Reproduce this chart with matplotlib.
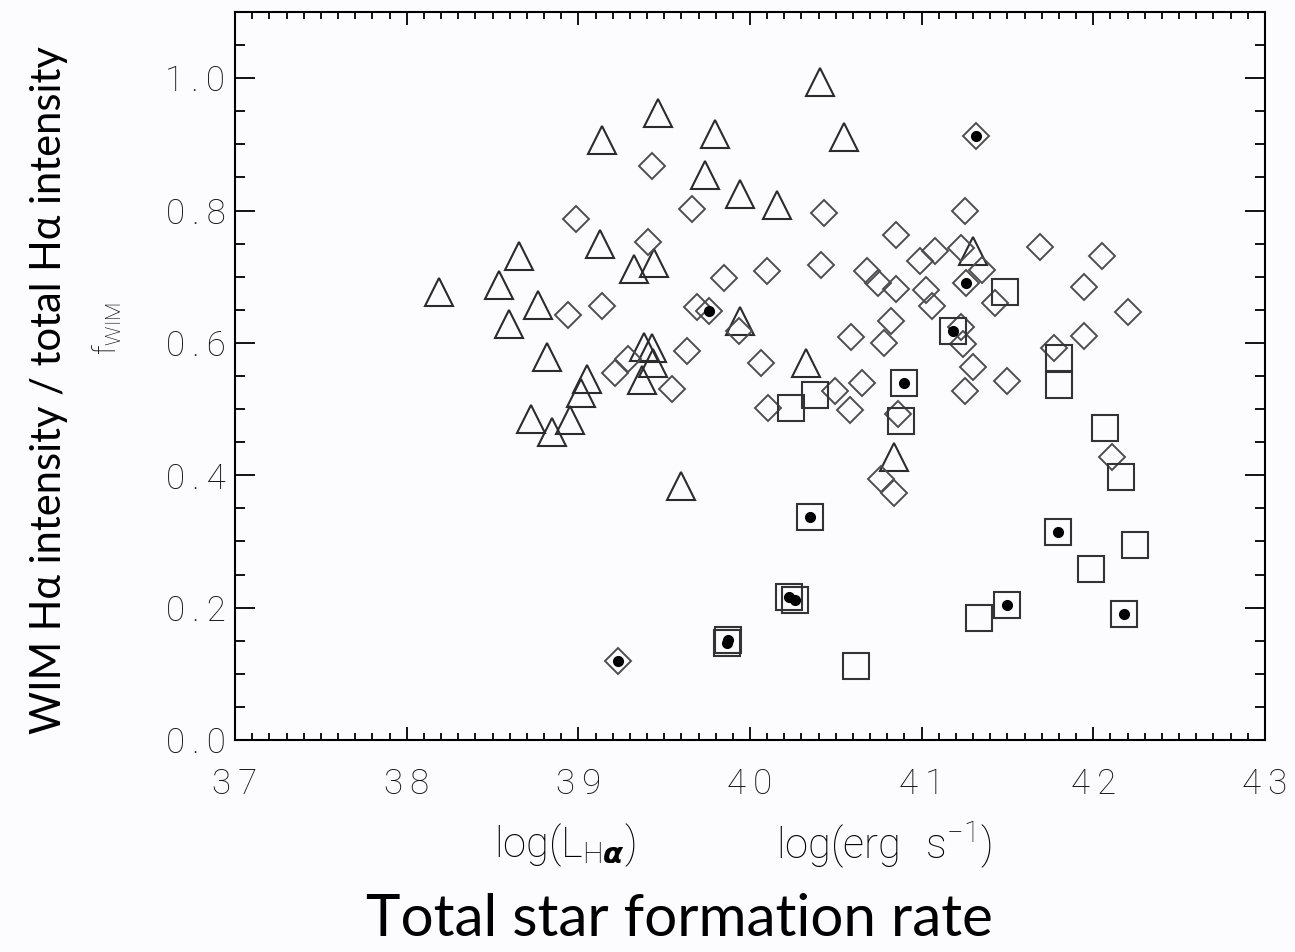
import matplotlib
matplotlib.use('Agg')
import matplotlib.pyplot as plt
from matplotlib.ticker import MultipleLocator

# --- data: log(L_Halpha) vs f_WIM ---
tri_x = [38.19, 38.54, 38.655, 38.598, 38.765, 38.816, 39.139, 39.463, 39.797, 39.740,
         39.944, 39.129, 39.327, 39.441, 39.941, 39.049, 39.016, 38.952, 38.725, 38.845,
         39.381, 39.427, 39.433, 39.373, 39.596, 40.406, 40.550, 40.160, 41.297, 40.328,
         40.838]
tri_y = [0.677, 0.687, 0.732, 0.629, 0.657, 0.579, 0.906, 0.947, 0.916, 0.853,
         0.825, 0.750, 0.711, 0.720, 0.633, 0.545, 0.525, 0.483, 0.485, 0.466,
         0.594, 0.592, 0.570, 0.544, 0.384, 0.994, 0.911, 0.809, 0.739, 0.570,
         0.427]

dia_x = [39.427, 39.664, 38.987, 39.407, 39.848, 40.098, 39.140, 38.942, 39.689, 39.937,
         39.631, 40.062, 40.106, 39.545, 39.291, 39.214, 40.432, 41.251, 40.853, 40.413,
         40.682, 40.746, 40.849, 40.989, 41.076, 41.227, 41.354, 41.028, 41.061, 41.430,
         41.692, 42.052, 41.945, 42.201, 41.945, 41.773, 40.822, 40.783, 40.586, 41.227,
         41.241, 41.299, 41.497, 41.255, 40.650, 40.498, 40.581, 40.863, 40.766, 40.839,
         42.111]
dia_y = [0.867, 0.802, 0.787, 0.753, 0.698, 0.709, 0.656, 0.642, 0.654, 0.618,
         0.588, 0.570, 0.5015, 0.530, 0.575, 0.554, 0.796, 0.799, 0.763, 0.7175,
         0.709, 0.691, 0.681, 0.7236, 0.739, 0.743, 0.710, 0.680, 0.656, 0.661,
         0.745, 0.731, 0.685, 0.647, 0.611, 0.593, 0.633, 0.600, 0.609, 0.624,
         0.599, 0.563, 0.542, 0.527, 0.540, 0.528, 0.4985, 0.492, 0.395, 0.3736,
         0.428]

# diamonds that carry a filled dot
dia_dot_x = [39.762, 41.319, 41.257, 39.229]
dia_dot_y = [0.648, 0.912, 0.690, 0.119]

sq_x = [41.485, 41.800, 41.800, 40.240, 40.378, 40.881, 42.070, 42.159, 42.242, 41.984,
        41.337, 40.616]
sq_y = [0.677, 0.5775, 0.536, 0.502, 0.521, 0.482, 0.4718, 0.398, 0.2946, 0.2583,
        0.1847, 0.1122]

# squares that carry a filled dot
sq_dot_x = [41.183, 40.897, 40.352, 41.792, 40.225, 40.265, 41.499, 42.176, 39.873, 39.864]
sq_dot_y = [0.618, 0.540, 0.337, 0.3137, 0.2156, 0.2115, 0.204, 0.190, 0.151, 0.146]

# --- figure ---
plt.rcParams['mathtext.fontset'] = 'custom'
plt.rcParams['mathtext.rm'] = 'Roboto:light'
plt.rcParams['mathtext.it'] = 'DejaVu Sans:italic:bold'
thin = ['Roboto', 'DejaVu Sans']
big = ['Lato', 'DejaVu Sans']
SP = '\u2009'

fig = plt.figure(figsize=(12.95, 9.52), dpi=100)
fig.patch.set_facecolor('#fcfcfe')
ax = fig.add_axes([0.1815, 0.2227, 0.7953, 0.7647])
ax.set_facecolor('#fcfcfe')

mk = dict(linestyle='none', markerfacecolor='none')
ax.plot(tri_x, tri_y, marker='^', markersize=19.5, markeredgewidth=1.5,
        markeredgecolor='#2b2b2b', **mk)
ax.plot(dia_x + dia_dot_x, dia_y + dia_dot_y, marker='D', markersize=13,
        markeredgewidth=1.4, markeredgecolor='#4d4d4d', **mk)
ax.plot(sq_x + sq_dot_x, sq_y + sq_dot_y, marker='s', markersize=18.5,
        markeredgewidth=1.5, markeredgecolor='#333333', **mk)
ax.plot(dia_dot_x + sq_dot_x, dia_dot_y + sq_dot_y, linestyle='none', marker='o',
        markersize=7, color='black')

ax.set_xlim(37, 43)
ax.set_ylim(0, 1.1)
ax.xaxis.set_major_locator(MultipleLocator(1))
ax.xaxis.set_minor_locator(MultipleLocator(0.1))
ax.yaxis.set_major_locator(MultipleLocator(0.2))
ax.yaxis.set_minor_locator(MultipleLocator(0.05))
ax.xaxis.set_major_formatter(lambda v, p: SP.join(f'{v:.0f}'))
ax.yaxis.set_major_formatter(lambda v, p: SP.join(f'{v:.1f}'))

for s in ax.spines.values():
    s.set_linewidth(1.5)
ax.tick_params(which='both', direction='in', top=True, right=True, width=1.3)
ax.tick_params(axis='x', which='major', length=9.5, pad=20)
ax.tick_params(axis='x', which='minor', length=5)
ax.tick_params(axis='y', which='major', length=14.5, pad=7)
ax.tick_params(axis='y', which='minor', length=7.2)
for lab in ax.get_xticklabels() + ax.get_yticklabels():
    lab.set_fontfamily(thin)
    lab.set_fontweight('light')
    lab.set_fontsize(25)
    lab.set_color('#111111')

# labels
fig.text(0.038, 0.59, 'WIM H\u03b1 intensity / total H\u03b1 intensity',
         rotation=90, ha='center', va='center', fontsize=30, family=big)
fig.text(0.083, 0.655, r'f$_{\rm WIM}$', rotation=90, ha='center', va='center',
         fontsize=22, family=thin, fontweight='light')
fig.text(0.436, 0.112, r'log(L$_{\mathrm{H}\mathit{\alpha}}$)',
         ha='center', va='center', fontsize=30, family=thin, fontweight='light')
fig.text(0.683, 0.112, r'log(erg' + SP * 3 + r's$^{-1}$)',
         ha='center', va='center', fontsize=30, family=thin, fontweight='light')
fig.text(0.525, 0.034, 'Total star formation rate', ha='center', va='center',
         fontsize=42, family=big)

fig.savefig('out.png', dpi=100, facecolor=fig.get_facecolor())
